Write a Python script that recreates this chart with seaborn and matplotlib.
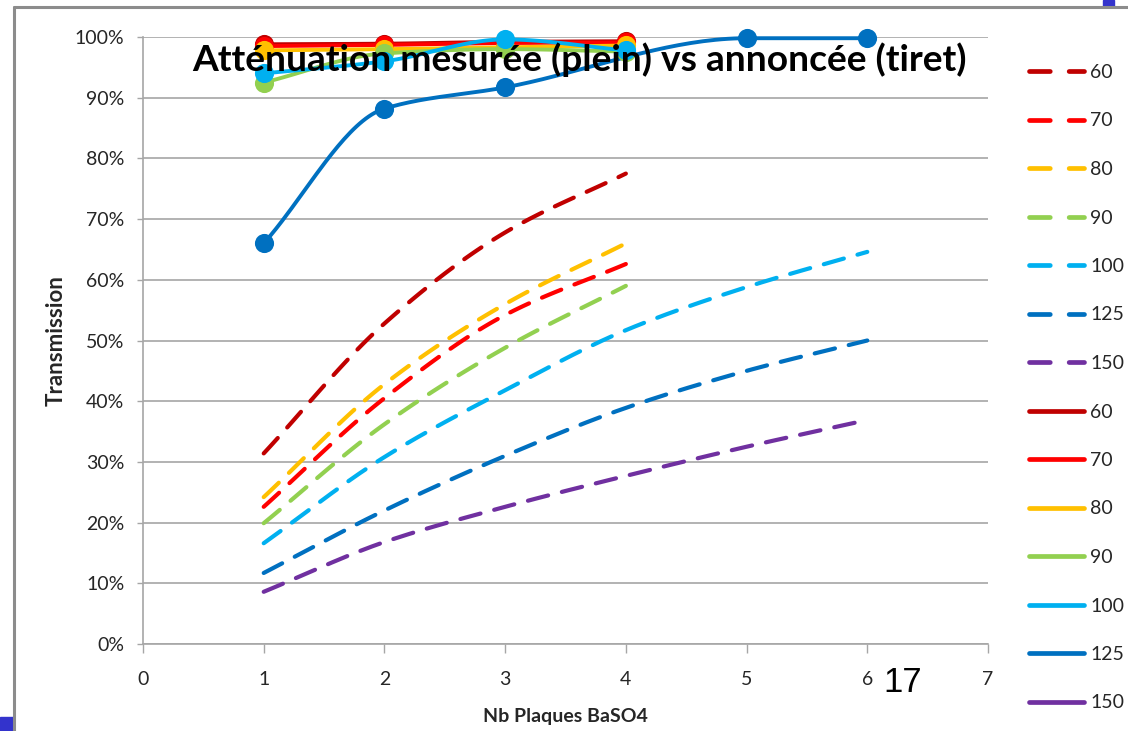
import numpy as np
import pandas as pd
import matplotlib
matplotlib.use("Agg")
import matplotlib.pyplot as plt
import seaborn as sns
from matplotlib.lines import Line2D
from matplotlib.patches import Rectangle
from matplotlib.ticker import PercentFormatter, MultipleLocator

# ---------------- data ----------------
energies = ["60", "70", "80", "90", "100", "125", "150"]
colors = ["#C00000", "#FF0000", "#FFC000", "#92D050", "#00B0F0", "#0070C0", "#7030A0"]

plates_4 = [1, 2, 3, 4]
plates_6 = [1, 2, 3, 4, 5, 6]
plates_125 = [1, 2, 3, 5, 6]

# announced transmission (dashed), %
ann_60 = [31.4, 52.8, 67.8, 77.5]
ann_70 = [22.6, 40.5, 54.2, 62.6]
ann_80 = [24.2, 42.8, 56.0, 66.0]
ann_90 = [19.9, 36.2, 48.8, 59.0]
ann_100 = [16.6, 30.8, 41.8, 51.7, 58.8, 64.6]
ann_125 = [11.7, 22.0, 31.0, 38.9, 45.0, 50.0]
ann_150 = [8.6, 16.8, 22.6, 27.7, 32.5, 36.9]

# measured transmission (solid), %
meas_60 = [98.8, 98.9, 99.2, 99.3]
meas_70 = [98.5, 98.7, 99.0, 99.1]
meas_80 = [97.8, 98.0, 98.3, 98.6]
meas_90 = [92.5, 97.3, 98.0, 97.6]
meas_100 = [94.0, 96.0, 99.6, 97.8]
meas_125 = [66.0, 88.2, 91.7, 99.8, 99.8]
meas_150 = []

announced = [(plates_4, ann_60), (plates_4, ann_70), (plates_4, ann_80), (plates_4, ann_90),
             (plates_6, ann_100), (plates_6, ann_125), (plates_6, ann_150)]
measured = [(plates_4, meas_60), (plates_4, meas_70), (plates_4, meas_80), (plates_4, meas_90),
            (plates_4, meas_100), (plates_125, meas_125), ([], meas_150)]

title = "Atténuation mesurée (plein) vs annoncée (tiret)"
xlabel = "Nb Plaques BaSO4"
ylabel = "Transmission"
slide_number = "17"


def smooth(xs, ys, n=40):
    """Smoothed line through the points (monotone cubic Hermite, no overshoot)."""
    x = np.asarray(xs, float)
    y = np.asarray(ys, float)
    if len(x) < 3:
        return x, y
    h = np.diff(x)
    d = np.diff(y) / h
    m = np.zeros_like(y)
    for k in range(1, len(x) - 1):
        if d[k - 1] * d[k] <= 0:
            m[k] = 0.0
        else:
            w1 = 2 * h[k] + h[k - 1]
            w2 = h[k] + 2 * h[k - 1]
            m[k] = (w1 + w2) / (w1 / d[k - 1] + w2 / d[k])
    m[0] = d[0]
    m[-1] = d[-1]
    xo, yo = [x[0]], [y[0]]
    t = np.linspace(0, 1, n)[1:]
    for k in range(len(x) - 1):
        h00 = 2 * t ** 3 - 3 * t ** 2 + 1
        h10 = t ** 3 - 2 * t ** 2 + t
        h01 = -2 * t ** 3 + 3 * t ** 2
        h11 = t ** 3 - t ** 2
        yy = h00 * y[k] + h10 * h[k] * m[k] + h01 * y[k + 1] + h11 * h[k] * m[k + 1]
        xo.extend(x[k] + t * h[k])
        yo.extend(yy)
    return np.array(xo), np.array(yo)


# ---------------- figure ----------------
sns.set_theme(style="white")
plt.rcParams["font.family"] = ["Lato", "DejaVu Sans"]

W, H = 1128, 731
fig = plt.figure(figsize=(W / 100, H / 100), dpi=100)
ax = fig.add_axes([143 / W, 1 - 644 / H, (988 - 143) / W, (644 - 37) / H])

grid_col = "#A6A6A6"
dash_pat = (5.0, 3.4)

for (xs, ys), col in zip(announced, colors):
    sx, sy = smooth(xs, ys)
    sns.lineplot(x=sx, y=sy, ax=ax, color=col, linewidth=3.0, sort=False,
                 estimator=None, zorder=3)
    ln = ax.lines[-1]
    ln.set_dashes(dash_pat)
    ln.set_dash_capstyle("round")

for (xs, ys), col in zip(measured, colors):
    if len(ys) == 0:
        continue
    sx, sy = smooth(xs, ys)
    sns.lineplot(x=sx, y=sy, ax=ax, color=col, linewidth=2.8, sort=False,
                 estimator=None, zorder=4)
    ax.lines[-1].set_solid_capstyle("round")
    ax.lines[-1].set_clip_on(False)
    sns.scatterplot(x=xs, y=ys, ax=ax, color=col, s=190, edgecolor=col,
                    linewidth=0, zorder=5, clip_on=False)

ax.set_xlim(0, 7)
ax.set_ylim(0, 100)
ax.xaxis.set_major_locator(MultipleLocator(1))
ax.yaxis.set_major_locator(MultipleLocator(10))
ax.yaxis.set_major_formatter(PercentFormatter(decimals=0))
ax.grid(axis="y", color=grid_col, linewidth=1.2, zorder=0)
ax.set_axisbelow(True)
for side in ["top", "right"]:
    ax.spines[side].set_visible(False)
for side in ["left", "bottom"]:
    ax.spines[side].set_color(grid_col)
    ax.spines[side].set_linewidth(1.2)
ax.tick_params(axis="x", direction="out", length=6.5, width=1, color=grid_col,
               pad=13, labelsize=14, labelcolor="#262626", bottom=True)
ax.tick_params(axis="y", direction="out", length=4.5, width=1, color=grid_col,
               pad=9, labelsize=14, labelcolor="#262626", left=True)

ax.set_xlabel(xlabel, fontsize=14, fontweight="bold", color="#262626", labelpad=14)
ax.set_ylabel(ylabel, fontsize=16, fontweight="bold", color="#262626", labelpad=6)

# title (drawn on top of the lines), fit to reference width
t = fig.text(579 / W, 1 - 60 / H, title, ha="center", va="center",
             fontsize=26, fontweight="bold", color="black", zorder=10)
fig.canvas.draw()
bb = t.get_window_extent()
t.set_fontsize(26 * 774 / bb.width)

# legend
handles, labels = [], []
for col, e in zip(colors, energies):
    handles.append(Line2D([], [], color=col, linewidth=3.4, linestyle=(0, (4.4, 4.0)),
                          dash_capstyle="round"))
    labels.append(e)
for col, e in zip(colors, energies):
    handles.append(Line2D([], [], color=col, linewidth=3.4, solid_capstyle="round"))
    labels.append(e)
leg = fig.legend(handles, labels, loc="upper left", bbox_to_anchor=(1029 / W, 1 - 64 / H),
                 frameon=False, fontsize=14, handlelength=2.85, handletextpad=0.3,
                 labelspacing=1.62, borderpad=0, borderaxespad=0)
for txt in leg.get_texts():
    txt.set_color("#262626")

# slide number
fig.text(903 / W, 1 - 682 / H, slide_number, ha="center", va="center", fontsize=25,
         family=["Liberation Sans", "DejaVu Sans"], color="black", zorder=10)

# slide decoration frame
fig.add_artist(Line2D([14 / W, 1], [1 - 7 / H, 1 - 7 / H], color="#8C8C8C", linewidth=2.2,
                      transform=fig.transFigure))
fig.add_artist(Line2D([14 / W, 14 / W], [1 - 7 / H, 0], color="#8C8C8C", linewidth=2.2,
                      transform=fig.transFigure))
fig.add_artist(Rectangle((1103 / W, 1 - 6 / H), 11 / W, 6 / H, color="#3333CC",
                         transform=fig.transFigure))
fig.add_artist(Rectangle((0, 0), 13 / W, 14 / H, color="#3333CC",
                         transform=fig.transFigure))

fig.savefig("out.png", dpi=100)
